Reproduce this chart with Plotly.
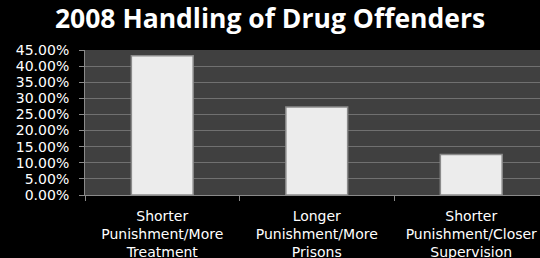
import plotly.graph_objects as go

categories = ["Shorter<br>Punishment/More<br>Treatment",
              "Longer<br>Punishment/More<br>Prisons",
              "Shorter<br>Punishment/Closer<br>Supervision"]
values = [0.432, 0.273, 0.126]
tick_vals = [i * 0.05 for i in range(10)]

fig = go.Figure()
fig.add_trace(go.Bar(
    x=categories, y=values, width=0.40,
    marker=dict(color="#ececec", line=dict(color="#8a8a8a", width=1.5)),
))

fig.update_layout(
    width=540, height=258,
    margin=dict(l=85, r=0, t=50, b=63),
    paper_bgcolor="black", plot_bgcolor="#404040",
    title=dict(text="<b>2008 Handling of Drug Offenders</b>", x=0.5, xanchor="center",
               y=1 - 19 / 258, yref="container", yanchor="middle",
               font=dict(family="Open Sans", size=26.5, color="white")),
    showlegend=False,
    font=dict(family="DejaVu Sans", color="white"),
)
fig.update_xaxes(range=[-0.5, 2.445], showgrid=False, showline=True, linecolor="#8a8a8a",
                 ticks="outside", tickson="boundaries", ticklen=5, tickcolor="#8a8a8a",
                 ticklabelstandoff=8,
                 tickfont=dict(size=14, color="white"), tickangle=0, automargin=False)
fig.update_yaxes(range=[0, 0.45], tickvals=tick_vals, tickformat=".2%",
                 showgrid=True, gridcolor="#707070", gridwidth=1, automargin=False,
                 showline=True, linecolor="#8a8a8a", ticks="outside", ticklen=5,
                 ticklabelstandoff=7,
                 tickcolor="#8a8a8a", tickfont=dict(size=14, color="white"), zeroline=False)

fig.write_html("out.html", config={"displayModeBar": False},
               post_script="document.body.style.margin='0';document.body.style.background='black';")
